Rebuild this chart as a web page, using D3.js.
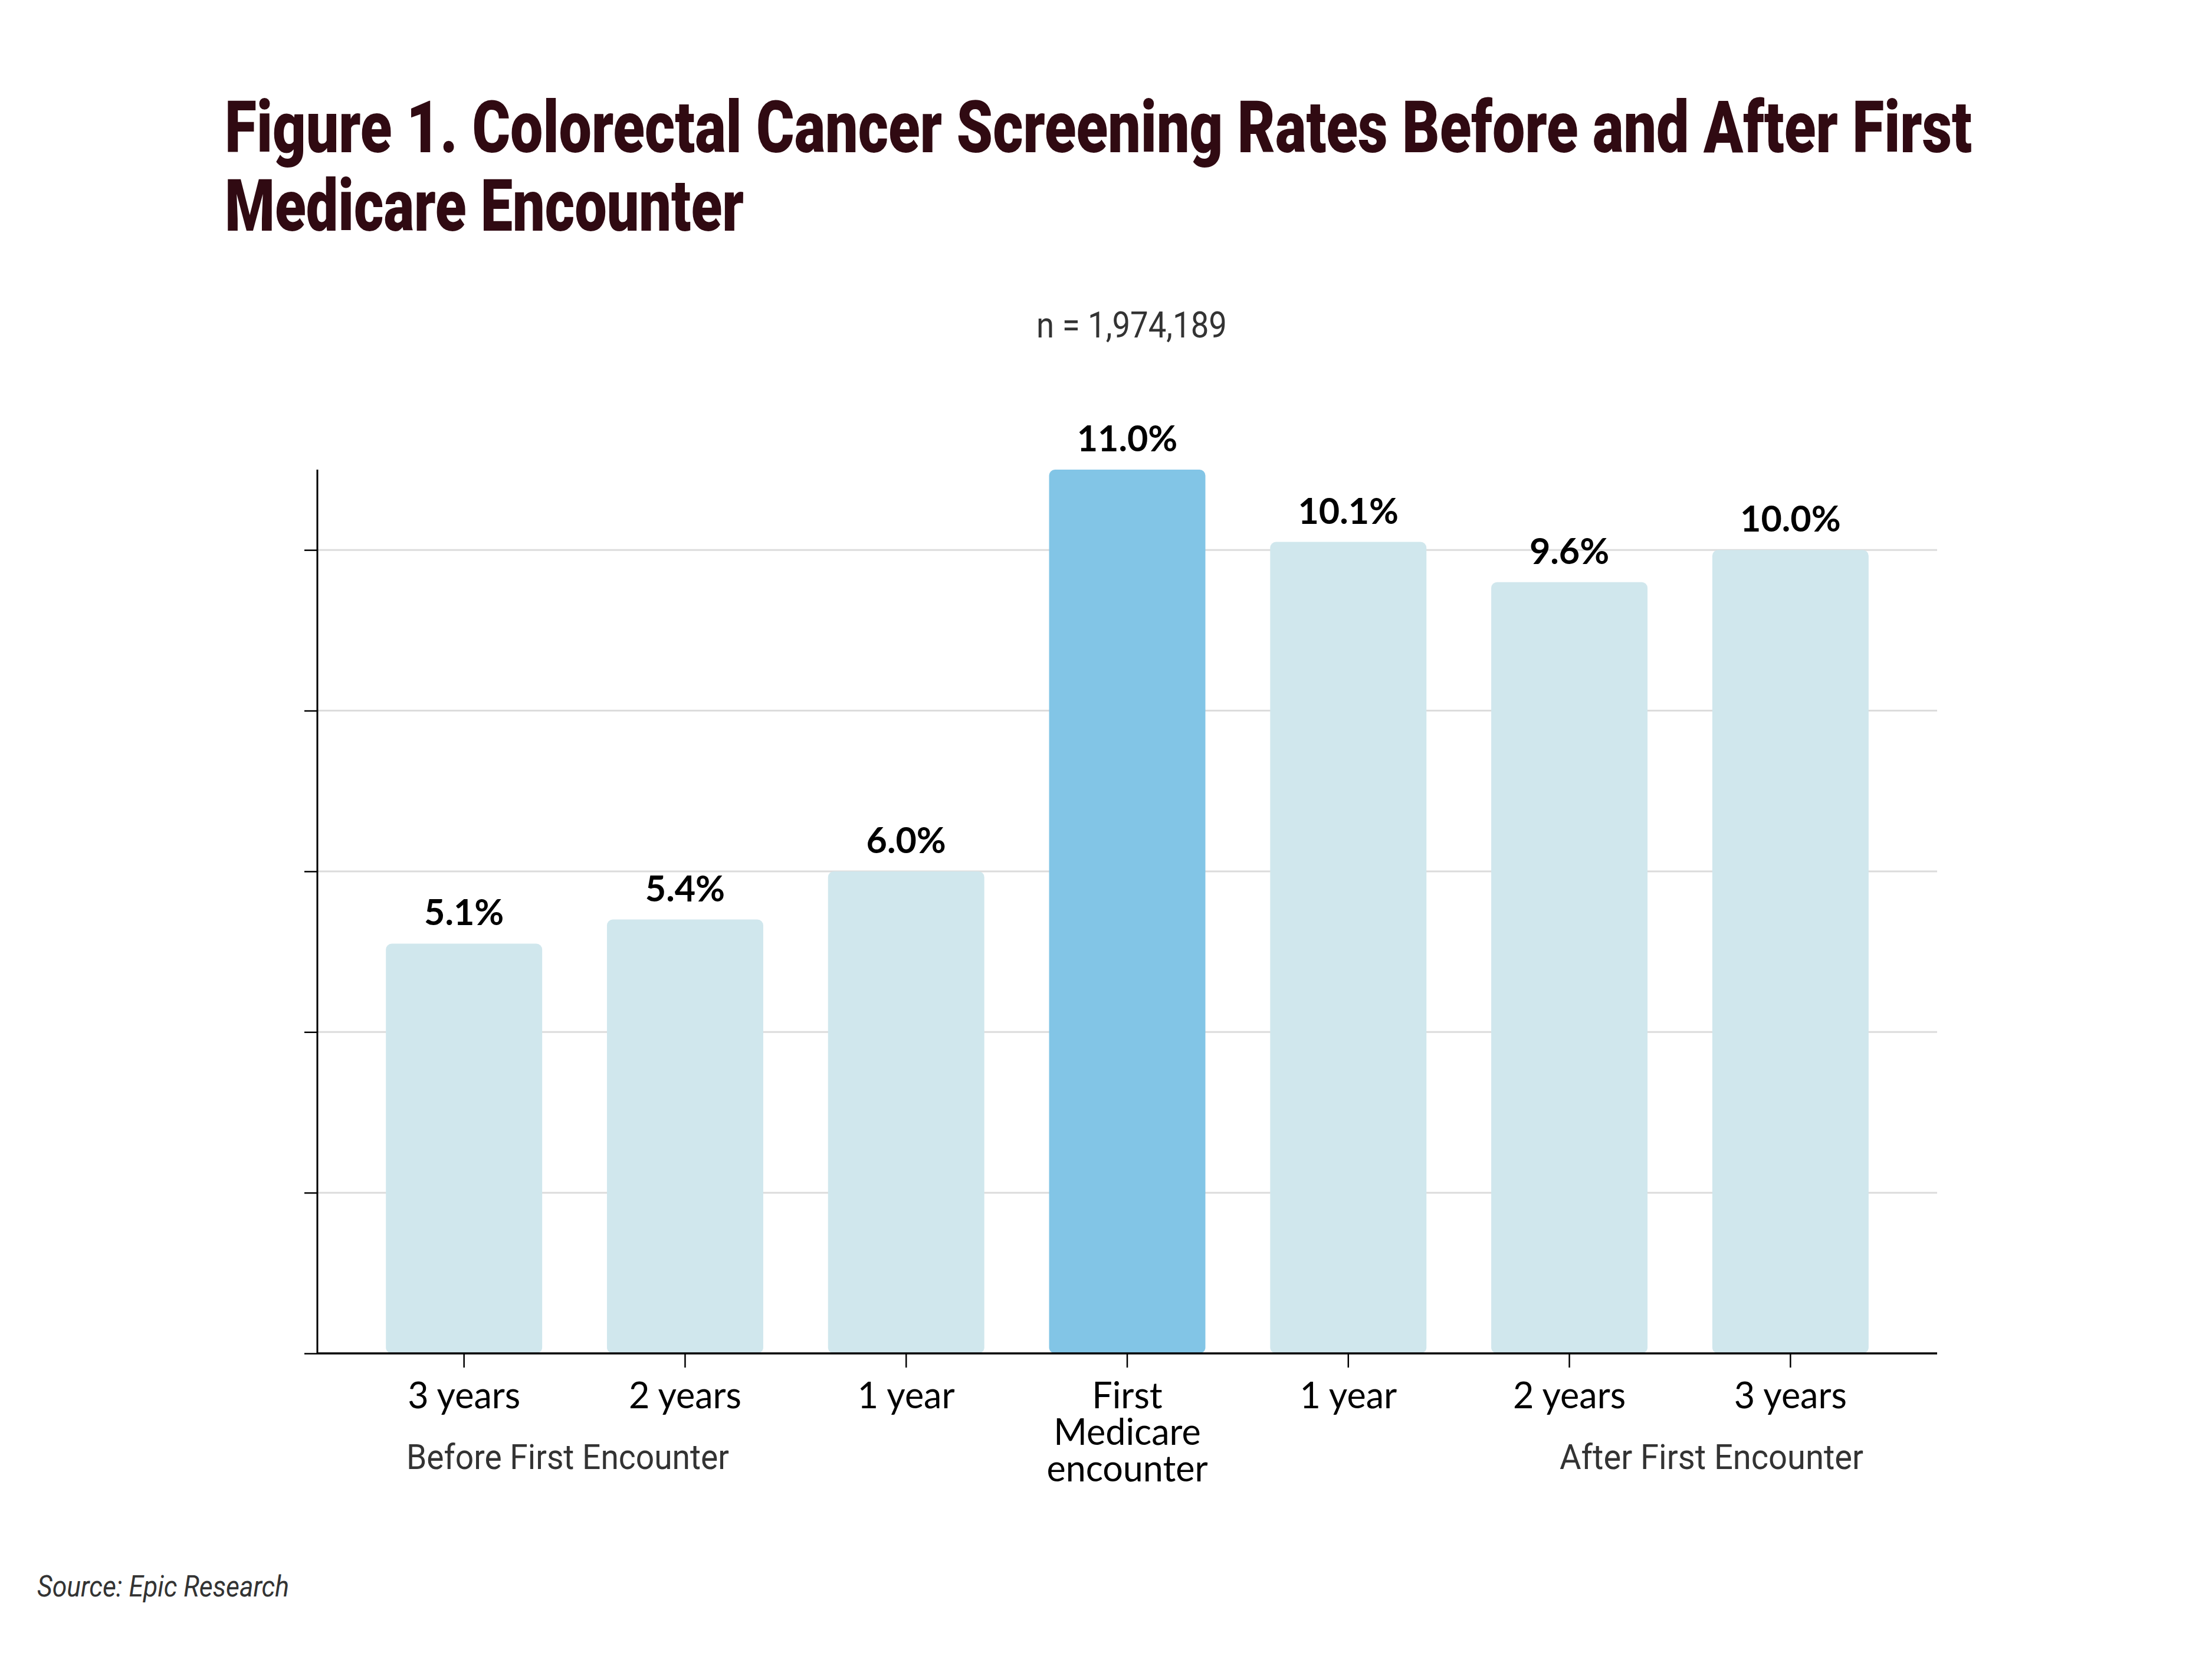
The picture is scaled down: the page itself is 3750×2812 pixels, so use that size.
<!DOCTYPE html>
<html>
<head>
<meta charset="utf-8">
<script src="https://cdn.jsdelivr.net/npm/d3@7"></script>
<style>
  body { margin: 0; background: #fff; }
  .tick text { font-family: Lato, "Noto Sans", sans-serif; }
</style>
</head>
<body>
<div id="chart"></div>
<script>
const periods = ["3 years", "2 years", "1 year", "First Medicare encounter", "1 year", "2 years", "3 years"];
const tickLines = [["3 years"], ["2 years"], ["1 year"], ["First", "Medicare", "encounter"], ["1 year"], ["2 years"], ["3 years"]];
const rates = [5.1, 5.4, 6.0, 11.0, 10.1, 9.6, 10.0];
const highlighted = [false, false, false, true, false, false, false];
const yTicks = [0, 2, 4, 6, 8, 10];

const width = 3750;
const height = 2812;
const plot = { left: 538, right: 3284, top: 796, bottom: 2294 };

const svg = d3.select("#chart").append("svg")
  .attr("width", width)
  .attr("height", height);

const x = d3.scaleBand()
  .domain(d3.range(periods.length))
  .range([plot.left, plot.right])
  .paddingInner(0.293)
  .paddingOuter(0.31);

const y = d3.scaleLinear().domain([0, 11]).range([plot.bottom, plot.top]);

// title, squeezed to the width of the condensed original
const titleLines = [
  { text: "Figure 1. Colorectal Cancer Screening Rates Before and After First", y: 258, w: 2962 },
  { text: "Medicare Encounter", y: 391, w: 880 }
];
svg.selectAll("text.title").data(titleLines).enter().append("text")
  .attr("class", "title")
  .attr("x", 381)
  .attr("y", d => d.y)
  .attr("textLength", d => d.w)
  .attr("lengthAdjust", "spacingAndGlyphs")
  .style("font-family", "Roboto, sans-serif")
  .style("font-weight", 900)
  .style("font-size", "122px")
  .style("fill", "#300a12")
  .text(d => d.text);

svg.append("text")
  .attr("x", 1757)
  .attr("y", 572)
  .attr("textLength", 323)
  .attr("lengthAdjust", "spacingAndGlyphs")
  .style("font-family", "Roboto, sans-serif")
  .style("font-size", "62px")
  .style("fill", "#333")
  .text("n = 1,974,189");

// grid
svg.append("g").selectAll("line").data(yTicks.filter(d => d > 0)).enter().append("line")
  .attr("x1", plot.left)
  .attr("x2", plot.right)
  .attr("y1", d => y(d))
  .attr("y2", d => y(d))
  .attr("stroke", "#dcdcdc")
  .attr("stroke-width", 3);

// bars
svg.append("g").selectAll("rect").data(rates).enter().append("rect")
  .attr("x", (d, i) => x(i))
  .attr("y", d => y(d))
  .attr("width", x.bandwidth())
  .attr("height", d => y(0) - y(d))
  .attr("rx", 10)
  .attr("fill", (d, i) => highlighted[i] ? "#82c5e6" : "#d0e7ed");

svg.append("g").selectAll("text").data(rates).enter().append("text")
  .attr("x", (d, i) => x(i) + x.bandwidth() / 2)
  .attr("y", d => y(d) - 31)
  .attr("text-anchor", "middle")
  .style("font-family", "Lato, sans-serif")
  .style("font-weight", 700)
  .style("font-size", "61px")
  .style("fill", "#000")
  .text(d => d.toFixed(1) + "%");

// axes
const yAxis = svg.append("g")
  .attr("transform", `translate(${plot.left},0)`)
  .call(d3.axisLeft(y).tickValues(yTicks).tickSize(22).tickFormat(""));
yAxis.select(".domain").attr("stroke", "#000").attr("stroke-width", 3).attr("d", `M0,${plot.top}V${plot.bottom}`);
yAxis.selectAll(".tick line").attr("stroke", "#000").attr("stroke-width", 2.5);

const xAxis = svg.append("g")
  .attr("transform", `translate(0,${plot.bottom})`)
  .call(d3.axisBottom(x).tickSize(24).tickFormat(""));
xAxis.select(".domain").attr("stroke", "#000").attr("stroke-width", 3.5).attr("d", `M${plot.left},0H${plot.right}`);
xAxis.selectAll(".tick line").attr("stroke", "#000").attr("stroke-width", 2.5);
xAxis.selectAll(".tick").each(function (d) {
  const t = d3.select(this).append("text")
    .attr("text-anchor", "middle")
    .attr("fill", "#000")
    .style("font-size", "61px");
  tickLines[d].forEach((line, k) => {
    t.append("tspan").attr("x", 0).attr("y", 93 + k * 62).text(line);
  });
});

// group captions
const groups = [
  { text: "Before First Encounter", x: 689, anchor: "start", w: 547 },
  { text: "After First Encounter", x: 3159, anchor: "end", w: 515 }
];
svg.selectAll("text.group").data(groups).enter().append("text")
  .attr("class", "group")
  .attr("x", d => d.anchor === "start" ? d.x : d.x - d.w)
  .attr("y", 2490)
  .attr("textLength", d => d.w)
  .attr("lengthAdjust", "spacingAndGlyphs")
  .style("font-family", "Roboto, sans-serif")
  .style("font-size", "60px")
  .style("fill", "#333")
  .text(d => d.text);

svg.append("text")
  .attr("x", 63)
  .attr("y", 2706)
  .attr("textLength", 427)
  .attr("lengthAdjust", "spacingAndGlyphs")
  .style("font-family", "Roboto, sans-serif")
  .style("font-style", "italic")
  .style("font-size", "50px")
  .style("fill", "#333")
  .text("Source: Epic Research");
</script>
</body>
</html>
